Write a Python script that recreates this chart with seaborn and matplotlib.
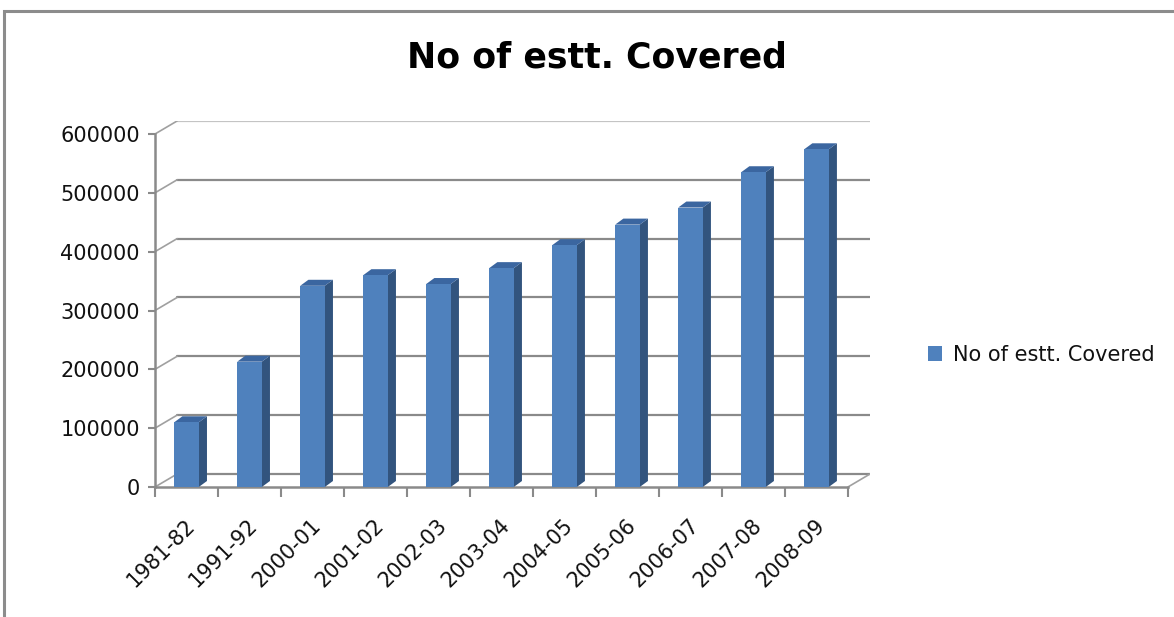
import matplotlib
matplotlib.use("Agg")
import matplotlib.pyplot as plt
import matplotlib.transforms as mtransforms
from matplotlib.patches import Rectangle, Patch
import seaborn as sns
import pandas as pd

# ---- data ----
years = ["1981-82", "1991-92", "2000-01", "2001-02", "2002-03", "2003-04",
         "2004-05", "2005-06", "2006-07", "2007-08", "2008-09"]
covered = [110000, 213000, 342000, 360000, 345000, 372000,
           411000, 446000, 475000, 535000, 574000]
series_name = "No of estt. Covered"
yticks = [0, 100000, 200000, 300000, 400000, 500000, 600000]

df = pd.DataFrame({"year": years, "value": covered})

sns.set_theme(style="white")
plt.rcParams["font.family"] = ["DejaVu Sans"]

FRONT = "#4F81BD"
SIDE = "#32547E"
TOP = "#3B66A0"
GRID = "#8A8A8A"
TXT = "#111111"

fig = plt.figure(figsize=(11.74, 6.17), dpi=100)
ax = fig.add_axes([155 / 1174, (617 - 487) / 617, (870 - 155) / 1174, (487 - 121) / 617])

# wall depth offset (data units)
wdx = 0.35
wdy = 22100
# bar depth offset
bdx = 0.13
bdy = 10200

n = len(years)
# back wall gridlines + diagonals
for v in yticks:
    col = "#C4C4C4" if v == yticks[-1] else GRID
    ax.plot([-0.5 + wdx, n - 0.5 + wdx], [v + wdy, v + wdy], color=col, lw=1.6, zorder=0.5)
    ax.plot([-0.5, -0.5 + wdx], [v, v + wdy], color="#A0A0A0", lw=1.2, zorder=0.5)
# floor right diagonal
ax.plot([n - 0.5, n - 0.5 + wdx], [0, wdy], color="#A0A0A0", lw=1.2, zorder=0.5)

sns.barplot(data=df, x="year", y="value", color=FRONT, width=0.39,
            saturation=1, ax=ax, zorder=3, edgecolor="none", linewidth=0)

for p in ax.patches:
    x0 = p.get_x()
    x1 = x0 + p.get_width()
    h = p.get_height()
    ax.fill([x1, x1, x1 + bdx, x1 + bdx], [0, h, h + bdy, bdy], color=SIDE, zorder=2.9, lw=0)
    ax.fill([x0, x1, x1 + bdx, x0 + bdx], [h, h, h + bdy, h + bdy], color=TOP, zorder=2.9, lw=0)

ax.set_xlim(-0.5, n - 0.5 + wdx)
ax.set_ylim(0, 600000 + wdy)

for s in ["top", "right"]:
    ax.spines[s].set_visible(False)
ax.spines["left"].set_bounds(0, 600000)
ax.spines["bottom"].set_bounds(-0.5, n - 0.5)
for s in ["left", "bottom"]:
    ax.spines[s].set_color(GRID)
    ax.spines[s].set_linewidth(1.8)

ax.set_yticks(yticks)
ax.set_yticklabels([str(v) for v in yticks], fontsize=15, color=TXT)
ax.tick_params(axis="y", direction="out", length=5, width=1.5, color=GRID, pad=6, left=True)

ax.set_xticks(range(n))
ax.set_xticklabels(years, rotation=45, ha="right", rotation_mode="anchor",
                   fontsize=15, color=TXT)
ax.set_xticks([i - 0.5 for i in range(n + 1)], minor=True)
ax.tick_params(axis="x", which="major", length=0, pad=20)
ax.tick_params(axis="x", which="minor", direction="out", length=7, width=1.5, color=GRID, bottom=True)
offset = mtransforms.ScaledTranslation(-2 / 100, 0, fig.dpi_scale_trans)
for lab in ax.get_xticklabels():
    lab.set_transform(lab.get_transform() + offset)

ax.set_xlabel("")
ax.set_ylabel("")
ax.grid(False)

fig.suptitle(series_name, x=597 / 1174, y=1 - 58 / 617, va="center", color="black",
             fontsize=25, fontweight="bold")

handle = Patch(facecolor=FRONT, edgecolor="none")
fig.legend([handle], [series_name], loc="center left",
           bbox_to_anchor=(909 / 1174, 1 - 355 / 617), frameon=False,
           fontsize=15, handlelength=0.7, handleheight=0.7, handletextpad=0.5,
           labelcolor=TXT)

# outer chart frame
fig.patches.append(Rectangle((4 / 1174, -0.1), 1.2, 1.1 - 11 / 617, transform=fig.transFigure,
                             fill=False, edgecolor="#8C8C8C", lw=2.2, zorder=0))

fig.savefig("out.png", dpi=100)
